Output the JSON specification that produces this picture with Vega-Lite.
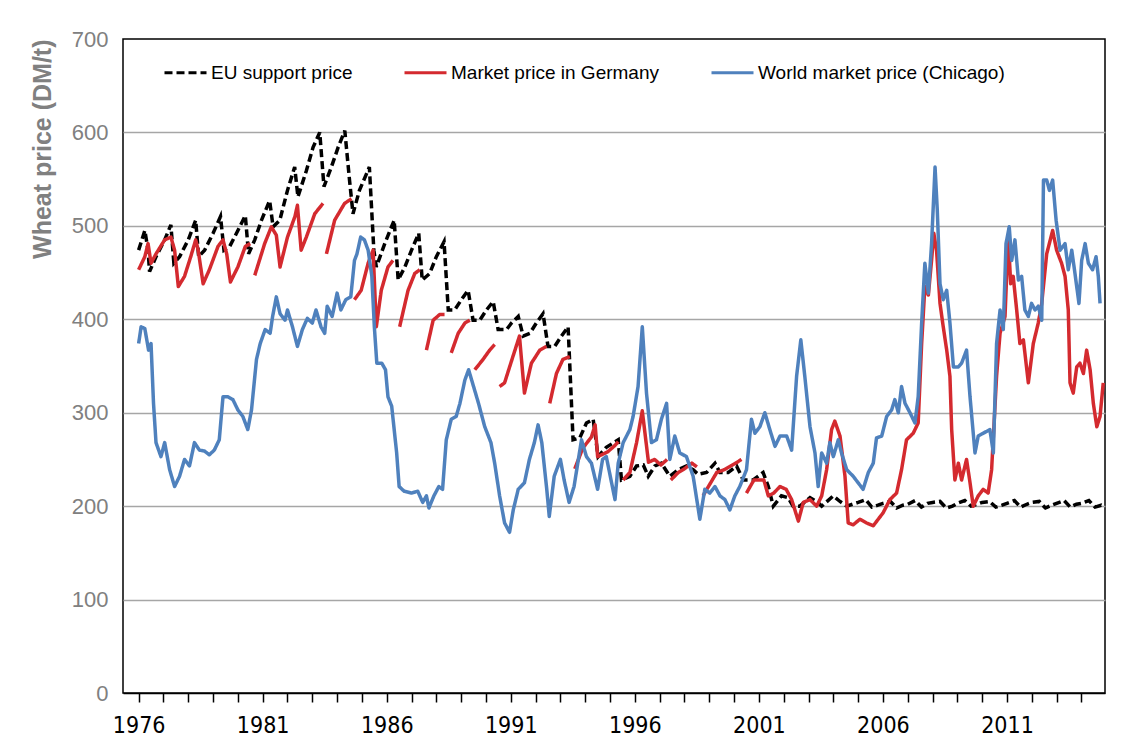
{
"$schema": "https://vega.github.io/schema/vega-lite/v6.json",
"width": 982, "height": 654,
"autosize": {"type": "none"},
"padding": {"left": 123, "top": 39, "right": 32, "bottom": 56},
"background": "white",
"config": {"view": {"stroke": "#000000", "strokeWidth": 1.5}, "font": "Liberation Sans"},
"datasets": {
"eu": [
{"year":1976.0,"price":474},{"year":1976.25,"price":495},{"year":1976.38,"price":474},{"year":1976.44,"price":451},{"year":1976.7,"price":467},
{"year":1977.05,"price":485},{"year":1977.3,"price":501},{"year":1977.42,"price":460},{"year":1977.65,"price":467},
{"year":1978.0,"price":485},{"year":1978.3,"price":506},{"year":1978.42,"price":467},{"year":1978.66,"price":474},
{"year":1979.0,"price":492},{"year":1979.3,"price":510},{"year":1979.44,"price":474},{"year":1979.67,"price":478},
{"year":1980.0,"price":495},{"year":1980.3,"price":511},{"year":1980.43,"price":470},{"year":1980.68,"price":485},{"year":1980.95,"price":506},
{"year":1981.28,"price":527},{"year":1981.42,"price":499},{"year":1981.69,"price":506},
{"year":1982.0,"price":538},{"year":1982.29,"price":563},{"year":1982.42,"price":531},{"year":1982.76,"price":559},
{"year":1983.03,"price":584},{"year":1983.3,"price":600},{"year":1983.47,"price":542},{"year":1983.77,"price":563},
{"year":1984.04,"price":584},{"year":1984.31,"price":602},{"year":1984.5,"price":549},{"year":1984.64,"price":513},{"year":1984.9,"price":538},
{"year":1985.3,"price":563},{"year":1985.48,"price":474},{"year":1985.58,"price":456},{"year":1985.92,"price":481},
{"year":1986.3,"price":506},{"year":1986.46,"price":442},{"year":1986.73,"price":456},
{"year":1987.0,"price":474},{"year":1987.29,"price":492},{"year":1987.43,"price":442},{"year":1987.73,"price":449},
{"year":1988.0,"price":467},{"year":1988.31,"price":483},{"year":1988.48,"price":410},{"year":1988.74,"price":410},
{"year":1989.01,"price":421},{"year":1989.28,"price":431},{"year":1989.48,"price":399},{"year":1989.75,"price":399},
{"year":1990.02,"price":410},{"year":1990.29,"price":419},{"year":1990.49,"price":389},{"year":1990.83,"price":389},
{"year":1991.03,"price":396},{"year":1991.3,"price":403},{"year":1991.5,"price":382},{"year":1991.77,"price":385},
{"year":1992.03,"price":396},{"year":1992.3,"price":406},{"year":1992.5,"price":371},{"year":1992.77,"price":371},
{"year":1993.04,"price":382},{"year":1993.31,"price":392},{"year":1993.51,"price":271},{"year":1993.78,"price":273},
{"year":1994.05,"price":289},{"year":1994.32,"price":293},{"year":1994.52,"price":253},{"year":1994.85,"price":263},
{"year":1995.33,"price":271},{"year":1995.46,"price":228},{"year":1995.8,"price":232},
{"year":1996.07,"price":243},{"year":1996.34,"price":244},{"year":1996.54,"price":232},{"year":1996.81,"price":243},
{"year":1997.07,"price":246},{"year":1997.41,"price":232},{"year":1997.75,"price":239},
{"year":1998.08,"price":243},{"year":1998.35,"price":239},{"year":1998.55,"price":234},{"year":1998.89,"price":236},
{"year":1999.23,"price":246},{"year":1999.43,"price":236},{"year":1999.76,"price":236},
{"year":2000.1,"price":243},{"year":2000.37,"price":228},{"year":2000.77,"price":228},
{"year":2001.17,"price":236},{"year":2001.38,"price":221},{"year":2001.58,"price":200},{"year":2001.91,"price":211},
{"year":2002.18,"price":209},{"year":2002.38,"price":200},{"year":2002.65,"price":200},
{"year":2003.06,"price":209},{"year":2003.33,"price":205},{"year":2003.53,"price":200},
{"year":2004.0,"price":211},{"year":2004.27,"price":205},{"year":2004.54,"price":200},
{"year":2005.0,"price":204},{"year":2005.3,"price":207},{"year":2005.55,"price":199},{"year":2005.8,"price":201},
{"year":2006.0,"price":203},{"year":2006.3,"price":205},{"year":2006.55,"price":198},{"year":2006.8,"price":201},
{"year":2007.0,"price":202},{"year":2007.3,"price":206},{"year":2007.55,"price":199},{"year":2007.8,"price":203},
{"year":2008.0,"price":204},{"year":2008.3,"price":205},{"year":2008.55,"price":198},{"year":2008.8,"price":200},
{"year":2009.0,"price":203},{"year":2009.3,"price":206},{"year":2009.55,"price":200},{"year":2009.8,"price":202},
{"year":2010.0,"price":204},{"year":2010.3,"price":205},{"year":2010.55,"price":199},{"year":2010.8,"price":201},
{"year":2011.0,"price":203},{"year":2011.3,"price":206},{"year":2011.55,"price":199},{"year":2011.8,"price":202},
{"year":2012.0,"price":204},{"year":2012.3,"price":205},{"year":2012.55,"price":198},{"year":2012.8,"price":201},
{"year":2013.0,"price":203},{"year":2013.3,"price":206},{"year":2013.55,"price":199},{"year":2013.8,"price":202},
{"year":2014.0,"price":203},{"year":2014.3,"price":206},{"year":2014.55,"price":199},{"year":2014.8,"price":201},{"year":2014.93,"price":199}
],
"de": [
{"seg":1,"year":1976.0,"price":453},{"seg":1,"year":1976.25,"price":467},{"seg":1,"year":1976.38,"price":481},{"seg":1,"year":1976.5,"price":460},{"seg":1,"year":1976.7,"price":470},
{"seg":1,"year":1977.05,"price":485},{"seg":1,"year":1977.3,"price":488},{"seg":1,"year":1977.45,"price":474},{"seg":1,"year":1977.6,"price":435},{"seg":1,"year":1977.85,"price":446},
{"seg":1,"year":1978.1,"price":467},{"seg":1,"year":1978.3,"price":485},{"seg":1,"year":1978.4,"price":474},{"seg":1,"year":1978.6,"price":438},{"seg":1,"year":1978.85,"price":453},
{"seg":1,"year":1979.2,"price":478},{"seg":1,"year":1979.4,"price":485},{"seg":1,"year":1979.55,"price":470},{"seg":1,"year":1979.7,"price":440},
{"seg":1,"year":1980.0,"price":456},{"seg":1,"year":1980.3,"price":478},{"seg":1,"year":1980.5,"price":481},
{"seg":2,"year":1980.68,"price":447},{"seg":2,"year":1981.08,"price":481},{"seg":2,"year":1981.35,"price":499},{"seg":2,"year":1981.55,"price":490},{"seg":2,"year":1981.7,"price":456},
{"seg":2,"year":1982.0,"price":488},{"seg":2,"year":1982.3,"price":510},{"seg":2,"year":1982.4,"price":522},{"seg":2,"year":1982.55,"price":474},{"seg":2,"year":1982.76,"price":488},
{"seg":2,"year":1983.1,"price":513},{"seg":2,"year":1983.43,"price":524},
{"seg":3,"year":1983.57,"price":470},{"seg":3,"year":1983.9,"price":506},{"seg":3,"year":1984.3,"price":524},{"seg":3,"year":1984.58,"price":529},
{"seg":4,"year":1984.7,"price":421},{"seg":4,"year":1984.97,"price":431},{"seg":4,"year":1985.25,"price":460},{"seg":4,"year":1985.45,"price":474},{"seg":4,"year":1985.58,"price":392},{"seg":4,"year":1985.78,"price":431},{"seg":4,"year":1986.05,"price":456},{"seg":4,"year":1986.25,"price":463},
{"seg":5,"year":1986.52,"price":392},{"seg":5,"year":1986.86,"price":431},{"seg":5,"year":1987.13,"price":449},{"seg":5,"year":1987.33,"price":453},
{"seg":6,"year":1987.6,"price":367},{"seg":6,"year":1987.87,"price":399},{"seg":6,"year":1988.13,"price":405},{"seg":6,"year":1988.33,"price":405},
{"seg":7,"year":1988.6,"price":364},{"seg":7,"year":1988.88,"price":385},{"seg":7,"year":1989.15,"price":396},{"seg":7,"year":1989.35,"price":399},
{"seg":8,"year":1989.55,"price":346},{"seg":8,"year":1989.88,"price":357},{"seg":8,"year":1990.15,"price":367},{"seg":8,"year":1990.35,"price":373},
{"seg":9,"year":1990.55,"price":328},{"seg":9,"year":1990.75,"price":332},{"seg":9,"year":1991.0,"price":353},{"seg":9,"year":1991.35,"price":382},{"seg":9,"year":1991.55,"price":321},{"seg":9,"year":1991.83,"price":353},{"seg":9,"year":1992.17,"price":367},{"seg":9,"year":1992.44,"price":371},
{"seg":10,"year":1992.57,"price":310},{"seg":10,"year":1992.84,"price":342},{"seg":10,"year":1993.1,"price":357},{"seg":10,"year":1993.38,"price":360},
{"seg":11,"year":1993.58,"price":240},{"seg":11,"year":1993.9,"price":262},{"seg":11,"year":1994.25,"price":274},{"seg":11,"year":1994.4,"price":287},{"seg":11,"year":1994.5,"price":253},{"seg":11,"year":1994.9,"price":258},{"seg":11,"year":1995.2,"price":265},{"seg":11,"year":1995.33,"price":269},
{"seg":12,"year":1995.53,"price":228},{"seg":12,"year":1995.8,"price":236},{"seg":12,"year":1996.07,"price":268},{"seg":12,"year":1996.3,"price":302},{"seg":12,"year":1996.55,"price":247},{"seg":12,"year":1996.8,"price":250},{"seg":12,"year":1997.05,"price":244},{"seg":12,"year":1997.3,"price":250},
{"seg":13,"year":1997.45,"price":228},{"seg":13,"year":1997.75,"price":236},{"seg":13,"year":1998.0,"price":240},{"seg":13,"year":1998.3,"price":246},{"seg":13,"year":1998.5,"price":242},
{"seg":14,"year":1998.75,"price":211},{"seg":14,"year":1998.9,"price":218},{"seg":14,"year":1999.3,"price":236},{"seg":14,"year":1999.6,"price":239},{"seg":14,"year":2000.0,"price":245},{"seg":14,"year":2000.3,"price":250},
{"seg":15,"year":2000.5,"price":214},{"seg":15,"year":2000.8,"price":228},{"seg":15,"year":2001.2,"price":228},{"seg":15,"year":2001.38,"price":211},{"seg":15,"year":2001.6,"price":214},{"seg":15,"year":2001.85,"price":221},
{"seg":15,"year":2002.1,"price":218},{"seg":15,"year":2002.32,"price":207},{"seg":15,"year":2002.59,"price":184},{"seg":15,"year":2002.79,"price":204},
{"seg":15,"year":2003.06,"price":207},{"seg":15,"year":2003.33,"price":200},{"seg":15,"year":2003.53,"price":211},{"seg":15,"year":2003.73,"price":239},{"seg":15,"year":2003.93,"price":282},
{"seg":15,"year":2004.06,"price":291},{"seg":15,"year":2004.27,"price":275},{"seg":15,"year":2004.47,"price":232},{"seg":15,"year":2004.6,"price":182},{"seg":15,"year":2004.8,"price":180},
{"seg":15,"year":2005.07,"price":186},{"seg":15,"year":2005.34,"price":182},{"seg":15,"year":2005.61,"price":179},{"seg":15,"year":2005.81,"price":186},
{"seg":15,"year":2006.01,"price":193},{"seg":15,"year":2006.28,"price":207},{"seg":15,"year":2006.55,"price":214},{"seg":15,"year":2006.75,"price":239},{"seg":15,"year":2006.95,"price":271},
{"seg":15,"year":2007.22,"price":278},{"seg":15,"year":2007.42,"price":289},{"seg":15,"year":2007.56,"price":374},{"seg":15,"year":2007.69,"price":435},{"seg":15,"year":2007.83,"price":426},{"seg":15,"year":2007.96,"price":463},
{"seg":15,"year":2008.05,"price":492},{"seg":15,"year":2008.16,"price":474},{"seg":15,"year":2008.3,"price":417},{"seg":15,"year":2008.43,"price":392},{"seg":15,"year":2008.57,"price":367},{"seg":15,"year":2008.7,"price":339},{"seg":15,"year":2008.77,"price":282},{"seg":15,"year":2008.9,"price":228},
{"seg":15,"year":2009.04,"price":246},{"seg":15,"year":2009.17,"price":228},{"seg":15,"year":2009.37,"price":250},{"seg":15,"year":2009.51,"price":225},{"seg":15,"year":2009.64,"price":200},{"seg":15,"year":2009.84,"price":211},
{"seg":15,"year":2010.04,"price":218},{"seg":15,"year":2010.24,"price":214},{"seg":15,"year":2010.38,"price":239},{"seg":15,"year":2010.58,"price":339},{"seg":15,"year":2010.72,"price":385},{"seg":15,"year":2010.92,"price":403},
{"seg":15,"year":2011.05,"price":488},{"seg":15,"year":2011.15,"price":438},{"seg":15,"year":2011.25,"price":446},{"seg":15,"year":2011.39,"price":410},{"seg":15,"year":2011.52,"price":374},{"seg":15,"year":2011.66,"price":378},{"seg":15,"year":2011.86,"price":332},
{"seg":15,"year":2012.06,"price":374},{"seg":15,"year":2012.26,"price":396},{"seg":15,"year":2012.4,"price":417},{"seg":15,"year":2012.6,"price":470},{"seg":15,"year":2012.84,"price":495},
{"seg":15,"year":2013.0,"price":474},{"seg":15,"year":2013.2,"price":460},{"seg":15,"year":2013.34,"price":446},{"seg":15,"year":2013.47,"price":410},{"seg":15,"year":2013.54,"price":332},{"seg":15,"year":2013.67,"price":321},{"seg":15,"year":2013.81,"price":349},{"seg":15,"year":2013.94,"price":353},
{"seg":15,"year":2014.08,"price":342},{"seg":15,"year":2014.21,"price":367},{"seg":15,"year":2014.35,"price":346},{"seg":15,"year":2014.48,"price":310},{"seg":15,"year":2014.62,"price":285},{"seg":15,"year":2014.75,"price":296},{"seg":15,"year":2014.88,"price":332}
],
"wm": [
{"year":1976.0,"price":374},{"year":1976.1,"price":392},{"year":1976.25,"price":390},{"year":1976.4,"price":367},{"year":1976.5,"price":374},{"year":1976.6,"price":310},{"year":1976.7,"price":268},{"year":1976.9,"price":253},
{"year":1977.05,"price":268},{"year":1977.25,"price":239},{"year":1977.45,"price":221},{"year":1977.65,"price":232},{"year":1977.85,"price":250},
{"year":1978.05,"price":243},{"year":1978.25,"price":268},{"year":1978.45,"price":260},{"year":1978.65,"price":259},{"year":1978.85,"price":255},
{"year":1979.05,"price":260},{"year":1979.25,"price":271},{"year":1979.4,"price":317},{"year":1979.6,"price":317},{"year":1979.8,"price":314},
{"year":1980.0,"price":303},{"year":1980.2,"price":296},{"year":1980.4,"price":282},{"year":1980.55,"price":303},{"year":1980.75,"price":357},{"year":1980.9,"price":374},
{"year":1981.1,"price":389},{"year":1981.3,"price":385},{"year":1981.4,"price":403},{"year":1981.55,"price":424},{"year":1981.7,"price":406},{"year":1981.9,"price":399},
{"year":1982.0,"price":410},{"year":1982.2,"price":392},{"year":1982.4,"price":371},{"year":1982.6,"price":389},{"year":1982.8,"price":401},
{"year":1983.0,"price":396},{"year":1983.15,"price":410},{"year":1983.35,"price":392},{"year":1983.5,"price":385},{"year":1983.6,"price":414},{"year":1983.8,"price":403},
{"year":1984.0,"price":428},{"year":1984.15,"price":410},{"year":1984.35,"price":421},{"year":1984.55,"price":424},{"year":1984.7,"price":463},{"year":1984.8,"price":470},{"year":1984.95,"price":488},
{"year":1985.1,"price":485},{"year":1985.25,"price":474},{"year":1985.4,"price":446},{"year":1985.5,"price":392},{"year":1985.6,"price":353},{"year":1985.8,"price":353},{"year":1985.95,"price":346},
{"year":1986.05,"price":317},{"year":1986.2,"price":307},{"year":1986.4,"price":257},{"year":1986.5,"price":221},{"year":1986.7,"price":216},
{"year":1987.0,"price":214},{"year":1987.25,"price":216},{"year":1987.45,"price":204},{"year":1987.6,"price":211},{"year":1987.7,"price":198},{"year":1987.9,"price":211},
{"year":1988.1,"price":221},{"year":1988.25,"price":218},{"year":1988.4,"price":271},{"year":1988.6,"price":293},{"year":1988.8,"price":296},{"year":1988.95,"price":310},
{"year":1989.15,"price":335},{"year":1989.3,"price":346},{"year":1989.5,"price":328},{"year":1989.7,"price":310},{"year":1989.95,"price":285},
{"year":1990.2,"price":268},{"year":1990.35,"price":246},{"year":1990.55,"price":211},{"year":1990.75,"price":182},{"year":1990.95,"price":172},
{"year":1991.1,"price":196},{"year":1991.3,"price":218},{"year":1991.55,"price":225},{"year":1991.75,"price":250},{"year":1991.95,"price":268},
{"year":1992.1,"price":287},{"year":1992.25,"price":268},{"year":1992.45,"price":218},{"year":1992.55,"price":189},{"year":1992.75,"price":232},
{"year":1993.0,"price":250},{"year":1993.15,"price":228},{"year":1993.35,"price":204},{"year":1993.55,"price":221},{"year":1993.85,"price":271},
{"year":1994.05,"price":253},{"year":1994.25,"price":246},{"year":1994.5,"price":218},{"year":1994.7,"price":250},{"year":1994.85,"price":253},
{"year":1995.2,"price":207},{"year":1995.33,"price":246},{"year":1995.53,"price":268},{"year":1995.8,"price":282},{"year":1995.93,"price":296},
{"year":1996.13,"price":328},{"year":1996.3,"price":392},{"year":1996.47,"price":321},{"year":1996.67,"price":268},{"year":1996.87,"price":271},
{"year":1997.07,"price":293},{"year":1997.28,"price":310},{"year":1997.41,"price":250},{"year":1997.61,"price":275},{"year":1997.81,"price":257},
{"year":1998.08,"price":253},{"year":1998.35,"price":232},{"year":1998.62,"price":186},{"year":1998.82,"price":218},
{"year":1999.02,"price":214},{"year":1999.23,"price":221},{"year":1999.43,"price":211},{"year":1999.63,"price":207},{"year":1999.83,"price":196},
{"year":2000.03,"price":211},{"year":2000.23,"price":221},{"year":2000.5,"price":239},{"year":2000.7,"price":293},{"year":2000.84,"price":278},
{"year":2001.04,"price":285},{"year":2001.24,"price":300},{"year":2001.44,"price":282},{"year":2001.65,"price":264},{"year":2001.85,"price":275},
{"year":2002.12,"price":275},{"year":2002.32,"price":260},{"year":2002.52,"price":339},{"year":2002.69,"price":378},{"year":2002.85,"price":339},
{"year":2003.06,"price":285},{"year":2003.26,"price":257},{"year":2003.39,"price":221},{"year":2003.53,"price":257},{"year":2003.73,"price":246},{"year":2003.86,"price":268},
{"year":2004.0,"price":253},{"year":2004.2,"price":271},{"year":2004.33,"price":257},{"year":2004.54,"price":239},{"year":2004.8,"price":232},
{"year":2005.0,"price":225},{"year":2005.2,"price":218},{"year":2005.41,"price":236},{"year":2005.61,"price":246},{"year":2005.74,"price":273},{"year":2005.95,"price":275},
{"year":2006.15,"price":296},{"year":2006.35,"price":303},{"year":2006.48,"price":314},{"year":2006.62,"price":300},{"year":2006.75,"price":328},{"year":2006.89,"price":310},
{"year":2007.09,"price":300},{"year":2007.29,"price":289},{"year":2007.42,"price":317},{"year":2007.56,"price":396},{"year":2007.69,"price":460},{"year":2007.83,"price":428},{"year":2007.96,"price":481},
{"year":2008.1,"price":563},{"year":2008.19,"price":517},{"year":2008.3,"price":438},{"year":2008.43,"price":421},{"year":2008.57,"price":431},{"year":2008.7,"price":396},{"year":2008.84,"price":349},
{"year":2009.04,"price":349},{"year":2009.17,"price":353},{"year":2009.37,"price":367},{"year":2009.51,"price":317},{"year":2009.71,"price":257},{"year":2009.84,"price":275},
{"year":2010.04,"price":278},{"year":2010.31,"price":282},{"year":2010.45,"price":257},{"year":2010.58,"price":374},{"year":2010.72,"price":410},{"year":2010.85,"price":389},{"year":2010.96,"price":481},
{"year":2011.09,"price":499},{"year":2011.19,"price":463},{"year":2011.32,"price":485},{"year":2011.46,"price":442},{"year":2011.59,"price":446},{"year":2011.72,"price":410},{"year":2011.86,"price":403},{"year":2011.99,"price":417},
{"year":2012.13,"price":410},{"year":2012.26,"price":414},{"year":2012.4,"price":399},{"year":2012.47,"price":549},{"year":2012.6,"price":549},{"year":2012.71,"price":538},{"year":2012.84,"price":549},{"year":2012.98,"price":506},
{"year":2013.14,"price":474},{"year":2013.34,"price":481},{"year":2013.47,"price":453},{"year":2013.61,"price":474},{"year":2013.74,"price":449},{"year":2013.9,"price":417},
{"year":2014.01,"price":463},{"year":2014.15,"price":481},{"year":2014.28,"price":460},{"year":2014.45,"price":453},{"year":2014.59,"price":467},{"year":2014.68,"price":446},{"year":2014.75,"price":417}
]
},
"encoding": {
  "x": {"field": "year", "type": "quantitative",
    "scale": {"domain": [1975.37, 2014.95], "nice": false, "zero": false},
    "axis": {"title": null, "values": [1976,1977,1978,1979,1980,1981,1982,1983,1984,1985,1986,1987,1988,1989,1990,1991,1992,1993,1994,1995,1996,1997,1998,1999,2000,2001,2002,2003,2004,2005,2006,2007,2008,2009,2010,2011,2012,2013,2014],
      "format": "d", "labelExpr": "(datum.value - 1976) % 5 == 0 ? datum.label : ''",
      "grid": false, "domainColor": "#000000", "domainWidth": 1.5, "tickColor": "#000000", "tickWidth": 1.5, "tickSize": 9,
      "labelFontSize": 23, "labelColor": "#000000", "labelPadding": 12, "labelFont": "Liberation Sans Narrow, DejaVu Sans Condensed, Liberation Sans", "labelOverlap": false}},
  "y": {"field": "price", "type": "quantitative",
    "scale": {"domain": [0, 700], "nice": false},
    "axis": {"title": "Wheat price (DM/t)", "values": [0,100,200,300,400,500,600,700],
      "grid": true, "gridColor": {"condition": {"test": "datum.value == 0 || datum.value == 700", "value": "transparent"}, "value": "#a6a6a6"}, "gridWidth": 1.5,
      "domain": false, "ticks": false, "tickSize": 0, "labelPadding": 15, "labelFontSize": 22, "labelColor": "#808080",
      "titleFontSize": 25, "titleColor": "#808080", "titleFontWeight": "bold", "titleX": -81, "titleY": 0, "titleAlign": "right", "titleAngle": 270, "titleBaseline": "middle"}},
  "color": {"field": "series", "type": "nominal",
    "scale": {"domain": ["EU support price", "Market price in Germany", "World market price (Chicago)"], "range": ["#000000", "#D42A2F", "#4F81BD"]},
    "legend": {"title": null, "orient": "none", "legendX": 40, "legendY": 11, "direction": "horizontal", "symbolType": "stroke", "symbolSize": 1764, "symbolStrokeWidth": 3, "labelFontSize": 19, "labelColor": "#000000", "labelOffset": 3, "columnPadding": 45, "padding": 0, "labelLimit": 400}},
  "strokeDash": {"field": "series", "type": "nominal",
    "scale": {"domain": ["EU support price", "Market price in Germany", "World market price (Chicago)"], "range": [[8, 4], [1, 0], [1, 0]]},
    "legend": {"title": null, "orient": "none", "legendX": 40, "legendY": 11, "direction": "horizontal", "symbolType": "stroke", "symbolSize": 1764, "symbolStrokeWidth": 3, "labelFontSize": 19, "labelColor": "#000000", "labelOffset": 3, "columnPadding": 45, "padding": 0, "labelLimit": 400}}
},
"layer": [
  {"data": {"name": "eu"}, "transform": [{"calculate": "'EU support price'", "as": "series"}], "mark": {"type": "line", "strokeWidth": 3.5}},
  {"data": {"name": "de"}, "transform": [{"calculate": "'Market price in Germany'", "as": "series"}], "mark": {"type": "line", "strokeWidth": 3.5, "strokeJoin": "round"}, "encoding": {"detail": {"field": "seg", "type": "nominal"}}},
  {"data": {"name": "wm"}, "transform": [{"calculate": "'World market price (Chicago)'", "as": "series"}], "mark": {"type": "line", "strokeWidth": 3.5, "strokeJoin": "round"}}
]
}
